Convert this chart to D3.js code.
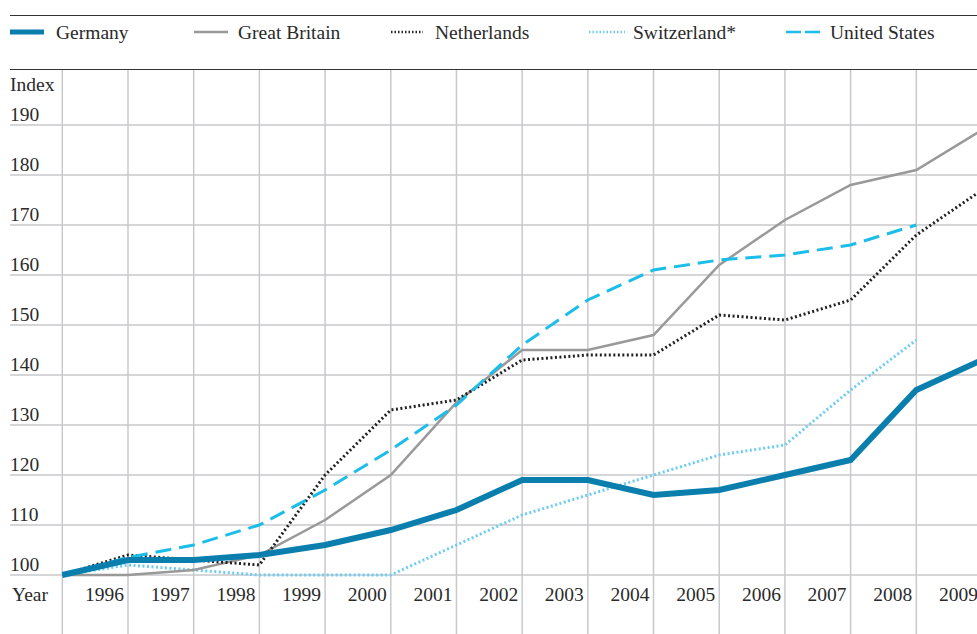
<!DOCTYPE html>
<html>
<head>
<meta charset="utf-8">
<title>Index by country</title>
<style>
  body { margin: 0; background: #fff; }
  svg { display: block; font-family: "Liberation Serif", "Times New Roman", serif; }
</style>
<script src="https://cdnjs.cloudflare.com/ajax/libs/d3/7.8.5/d3.min.js"></script>
</head>
<body>
<div id="chart"></div>
<script>
// data (index, 1995 = 100)
var years = [1995, 1996, 1997, 1998, 1999, 2000, 2001, 2002, 2003, 2004, 2005, 2006, 2007, 2008, 2009];
var germany = [100, 103, 103, 104, 106, 109, 113, 119, 119, 116, 117, 120, 123, 137, 143];
var greatBritain = [100, 100, 101, 104, 111, 120, 134.5, 145, 145, 148, 162, 171, 178, 181, 189];
var netherlands = [100, 104, 103, 102, 120, 133, 135, 143, 144, 144, 152, 151, 155, 168, 177];
var switzerland = [100, 102, 101, 100, 100, 100, 106, 112, 116, 120, 124, 126, 137, 147];
var unitedStates = [100, 103.5, 106, 110, 117, 125, 134, 146, 155, 161, 163, 164, 166, 170];
var seriesNames = ["Germany", "Great Britain", "Netherlands", "Switzerland*", "United States"];
var yTicks = [100, 110, 120, 130, 140, 150, 160, 170, 180, 190];
var yearLabels = years.slice(1);

var width = 977, height = 634;

var styles = [
  { color: "#0a7fae", width: 6, dash: null },
  { color: "#999999", width: 2.5, dash: null },
  { color: "#222222", width: 3, dash: "2,2.5" },
  { color: "#6ccdf0", width: 3, dash: "2,2.5" },
  { color: "#1bbde9", width: 3, dash: "16,8" }
];
var allSeries = [germany, greatBritain, netherlands, switzerland, unitedStates];

var x = d3.scaleLinear().domain([1995, 2009]).range([62.3, 982]);
var y = d3.scaleLinear().domain([100, 190]).range([575, 125]);

var svg = d3.select("#chart").append("svg")
  .attr("width", width)
  .attr("height", height);

// rules at top
svg.append("line").attr("x1", 10).attr("x2", width).attr("y1", 15.5).attr("y2", 15.5)
  .attr("stroke", "#333").attr("stroke-width", 1);
svg.append("line").attr("x1", 10).attr("x2", width).attr("y1", 69.5).attr("y2", 69.5)
  .attr("stroke", "#333").attr("stroke-width", 1);

// legend
var legendX = [10, 194, 391, 589, 786];
var swatchW = [34, 34, 32, 36, 35];
var legend = svg.append("g").selectAll("g")
  .data(seriesNames)
  .join("g")
  .attr("transform", function(d, i) { return "translate(" + legendX[i] + ",32)"; });
legend.append("line")
  .attr("x1", 0).attr("x2", function(d, i) { return swatchW[i]; }).attr("y1", 0).attr("y2", 0)
  .attr("stroke", function(d, i) { return styles[i].color; })
  .attr("stroke-width", function(d, i) { return i == 0 ? 5 : 2.5; })
  .attr("stroke-dasharray", function(d, i) { return i == 2 || i == 3 ? "1.5,2" : (i == 4 ? "15,4" : null); });
legend.append("text")
  .attr("x", function(d, i) { return i == 0 ? 46 : 44; }).attr("y", 6.5)
  .attr("fill", "#2a2a2a")
  .style("font-size", "19.5px")
  .text(function(d) { return d; });

// horizontal grid
svg.append("g").selectAll("line")
  .data(yTicks)
  .join("line")
  .attr("x1", 10).attr("x2", width)
  .attr("y1", function(d) { return y(d); }).attr("y2", function(d) { return y(d); })
  .attr("stroke", "#c9c9cc").attr("stroke-width", 1.5);

// vertical grid
svg.append("g").selectAll("line")
  .data(years)
  .join("line")
  .attr("x1", function(d) { return x(d); }).attr("x2", function(d) { return x(d); })
  .attr("y1", 70).attr("y2", height)
  .attr("stroke", "#c9c9cc").attr("stroke-width", 1.5);

// y labels
svg.append("g").selectAll("text")
  .data(yTicks)
  .join("text")
  .attr("x", 10)
  .attr("y", function(d) { return y(d) - 4; })
  .attr("fill", "#2a2a2a")
  .style("font-size", "19.5px")
  .text(function(d) { return d; });
svg.append("text").attr("x", 10).attr("y", 91).attr("fill", "#2a2a2a")
  .style("font-size", "19.5px").text("Index");

// x labels
svg.append("g").selectAll("text")
  .data(yearLabels)
  .join("text")
  .attr("x", function(d) { return x(d) - 4; })
  .attr("y", 601)
  .attr("text-anchor", "end")
  .attr("fill", "#2a2a2a")
  .style("font-size", "19.5px")
  .text(function(d) { return d; });
svg.append("text").attr("x", 12).attr("y", 601).attr("fill", "#2a2a2a")
  .style("font-size", "19.5px").text("Year");

// lines, drawn back to front
var line = d3.line()
  .x(function(d, i) { return x(years[i]); })
  .y(function(d) { return y(d); });

var order = [3, 1, 2, 4, 0];
order.forEach(function(k) {
  svg.append("path")
    .datum(allSeries[k])
    .attr("d", line)
    .attr("fill", "none")
    .attr("stroke", styles[k].color)
    .attr("stroke-width", styles[k].width)
    .attr("stroke-dasharray", styles[k].dash)
    .attr("stroke-linejoin", "miter");
});
</script>
</body>
</html>
